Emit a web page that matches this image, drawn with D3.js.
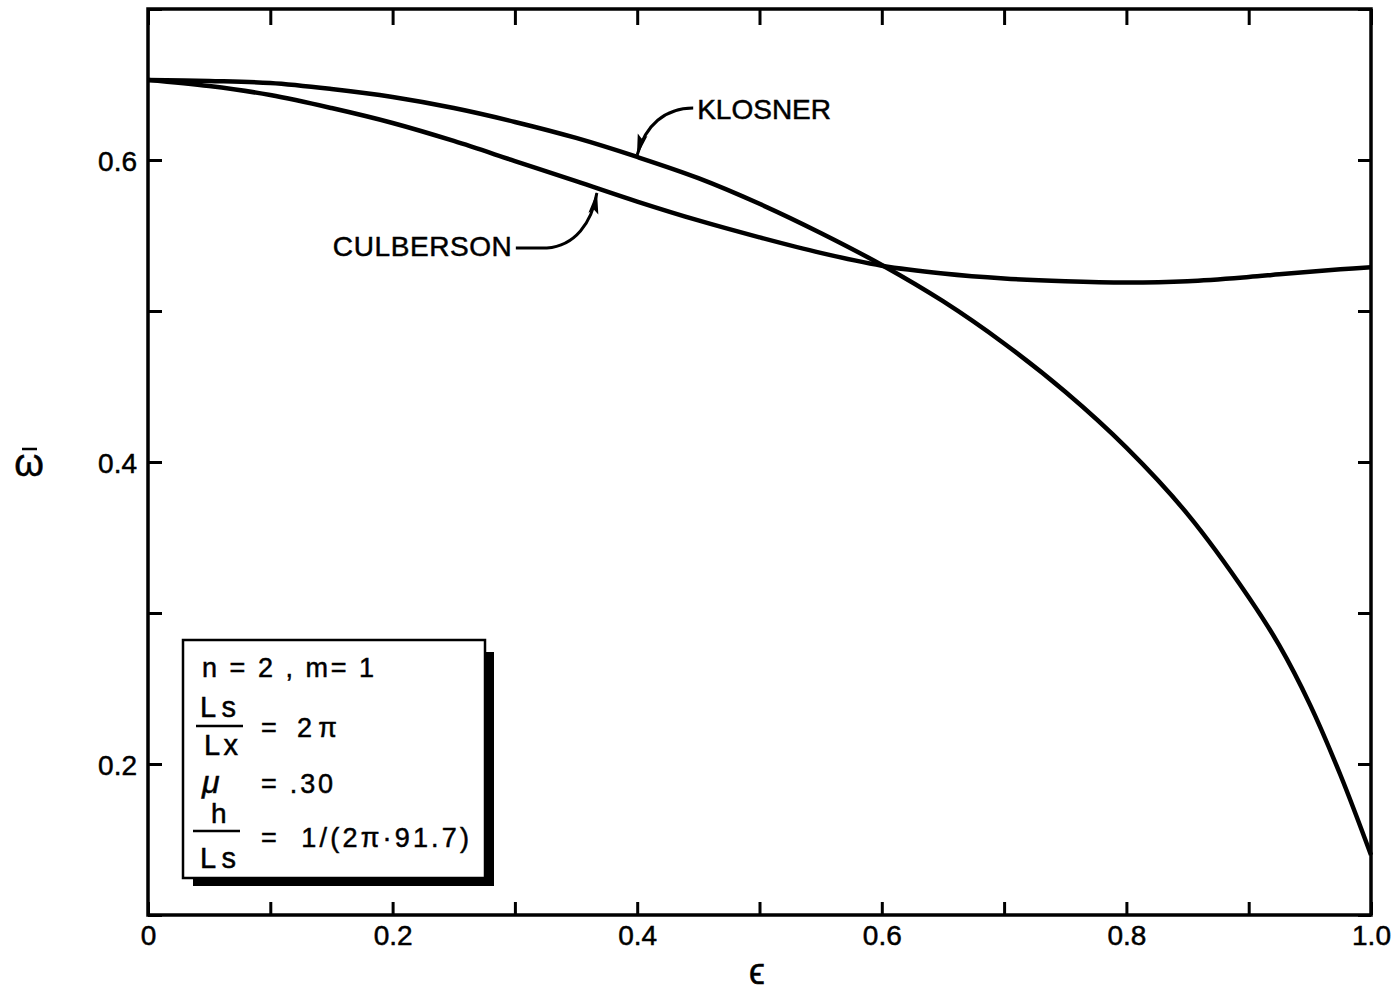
<!DOCTYPE html>
<html>
<head>
<meta charset="utf-8">
<script src="https://cdn.jsdelivr.net/npm/d3@7"></script>
<style>
  body { margin: 0; background: #fff; }
  svg { display: block; }
  svg text { font-family: "Liberation Sans", Arial, sans-serif; fill: #000; stroke: #000; stroke-width: 0.5px; }
</style>
</head>
<body>
<div id="chart"></div>
<script>
// epsilon values (x) and the two frequency curves (y)
const epsilon = [0, 0.05, 0.1, 0.15, 0.2, 0.25, 0.3, 0.35, 0.4, 0.45, 0.5, 0.55, 0.6,
  0.65, 0.7, 0.75, 0.8, 0.85, 0.9, 0.925, 0.95, 0.975, 1.0];
const klosner = [0.653, 0.6523, 0.651, 0.647, 0.6417, 0.6344, 0.6252, 0.6146, 0.602, 0.588,
  0.571, 0.5517, 0.5305, 0.5065, 0.4785, 0.4465, 0.4095, 0.3655, 0.3105, 0.2785,
  0.2395, 0.1927, 0.1397];
const culberson = [0.653, 0.649, 0.643, 0.6344, 0.6245, 0.6126, 0.5993, 0.586, 0.5725, 0.560,
  0.5488, 0.5385, 0.530, 0.5248, 0.5215, 0.5197, 0.5189, 0.5197, 0.5225, 0.5243,
  0.526, 0.5276, 0.529];

const xTicks = [0, 0.1, 0.2, 0.3, 0.4, 0.5, 0.6, 0.7, 0.8, 0.9, 1.0];
const xTickLabels = ['0', '', '0.2', '', '0.4', '', '0.6', '', '0.8', '', '1.0'];
const yTicks = [0.1, 0.2, 0.3, 0.4, 0.5, 0.6, 0.7];
const yTickLabels = ['', '0.2', '', '0.4', '', '0.6', ''];

const width = 1400, height = 999;
const margin = { top: 9, right: 29, bottom: 84, left: 148 };
const innerWidth = width - margin.left - margin.right;
const innerHeight = height - margin.top - margin.bottom;

const svg = d3.select('#chart').append('svg')
  .attr('width', width)
  .attr('height', height);

const g = svg.append('g')
  .attr('transform', `translate(${margin.left},${margin.top})`);

const x = d3.scaleLinear().domain([0, 1]).range([0, innerWidth]);
const y = d3.scaleLinear().domain([0.1, 0.7]).range([innerHeight, 0]);

// axes with inward ticks on all four sides; empty labels are dropped
const styleAxis = sel => {
  sel.select('.domain').remove();
  sel.selectAll('.tick line').attr('stroke', '#000').attr('stroke-width', 3);
  sel.selectAll('.tick text').style('font-size', '28px').attr('fill', '#000');
  sel.selectAll('.tick text').filter(function () { return this.textContent === ''; }).remove();
};

g.append('g')
  .attr('transform', `translate(0,${innerHeight})`)
  .call(d3.axisBottom(x).tickValues(xTicks).tickSize(-13).tickPadding(10)
    .tickFormat((d, i) => xTickLabels[i]))
  .call(styleAxis);

g.append('g')
  .call(d3.axisTop(x).tickValues(xTicks).tickSize(-16).tickFormat(''))
  .call(styleAxis);

g.append('g')
  .call(d3.axisLeft(y).tickValues(yTicks).tickSize(-14).tickPadding(11)
    .tickFormat((d, i) => yTickLabels[i]))
  .call(styleAxis)
  .selectAll('.tick text').attr('dy', '0.38em');

g.append('g')
  .attr('transform', `translate(${innerWidth},0)`)
  .call(d3.axisRight(y).tickValues(yTicks).tickSize(-13).tickFormat(''))
  .call(styleAxis);

// frame
g.append('rect')
  .attr('width', innerWidth)
  .attr('height', innerHeight)
  .attr('fill', 'none')
  .attr('stroke', '#000')
  .attr('stroke-width', 3.5);

// curves
const line = d3.line()
  .x((d, i) => x(epsilon[i]))
  .y(d => y(d))
  .curve(d3.curveCatmullRom.alpha(0.5));

[klosner, culberson].forEach(s => {
  g.append('path')
    .datum(s)
    .attr('d', line)
    .attr('fill', 'none')
    .attr('stroke', '#000')
    .attr('stroke-width', 4.5);
});

// arrowhead marker
svg.append('defs').append('marker')
  .attr('id', 'arrow')
  .attr('markerUnits', 'userSpaceOnUse')
  .attr('viewBox', '0 -6 22 12')
  .attr('refX', 21)
  .attr('refY', 0)
  .attr('markerWidth', 22)
  .attr('markerHeight', 12)
  .attr('orient', 'auto')
  .append('path')
  .attr('d', 'M0,-5L22,0L0,5L4,0Z')
  .attr('fill', '#000');

// KLOSNER label and leader
const kTip = [x(0.4) + margin.left, y(0.602) + margin.top];
svg.append('path')
  .attr('d', `M${kTip[0] + 56},${kTip[1] - 49} C${kTip[0] + 28},${kTip[1] - 49} ${kTip[0] + 8},${kTip[1] - 32} ${kTip[0]},${kTip[1] - 2}`)
  .attr('fill', 'none')
  .attr('stroke', '#000')
  .attr('stroke-width', 3)
  .attr('marker-end', 'url(#arrow)');
svg.append('text')
  .attr('x', kTip[0] + 60)
  .attr('y', kTip[1] - 38)
  .style('font-size', '28px')
  .text('KLOSNER');

// CULBERSON label and leader
const cTip = [x(0.367) + margin.left, y(0.5795) + margin.top];
svg.append('path')
  .attr('d', `M${cTip[0] - 81},${cTip[1] + 57} L${cTip[0] - 50},${cTip[1] + 57} C${cTip[0] - 22},${cTip[1] + 55} ${cTip[0] - 5},${cTip[1] + 32} ${cTip[0]},${cTip[1] + 2}`)
  .attr('fill', 'none')
  .attr('stroke', '#000')
  .attr('stroke-width', 3)
  .attr('marker-end', 'url(#arrow)');
svg.append('text')
  .attr('x', cTip[0] - 264)
  .attr('y', cTip[1] + 65)
  .attr('textLength', 179)
  .attr('lengthAdjust', 'spacing')
  .style('font-size', '28px')
  .text('CULBERSON');

// axis titles
svg.append('text')
  .attr('x', 757)
  .attr('y', 984)
  .attr('text-anchor', 'middle')
  .style('font-size', '36px')
  .text('\u03F5');
svg.append('text')
  .attr('x', 29)
  .attr('y', 476)
  .attr('text-anchor', 'middle')
  .style('font-size', '38px')
  .text('\u03C9');
svg.append('line')
  .attr('x1', 22).attr('x2', 37)
  .attr('y1', 449).attr('y2', 449)
  .attr('stroke', '#000').attr('stroke-width', 2.5);

// parameter box with drop shadow
const box = svg.append('g');
box.append('rect')
  .attr('x', 193).attr('y', 652).attr('width', 301).attr('height', 234)
  .attr('fill', '#000');
box.append('rect')
  .attr('x', 183).attr('y', 640).attr('width', 302).attr('height', 238)
  .attr('fill', '#fff').attr('stroke', '#000').attr('stroke-width', 2.5);

const addText = (tx, ty, str, size, len) => {
  const t = box.append('text')
    .attr('x', tx).attr('y', ty)
    .attr('xml:space', 'preserve')
    .style('font-size', size + 'px')
    .text(str);
  if (len) t.attr('textLength', len).attr('lengthAdjust', 'spacing');
  return t;
};
const addBar = (x1, x2, by) => box.append('line')
  .attr('x1', x1).attr('x2', x2).attr('y1', by).attr('y2', by)
  .attr('stroke', '#000').attr('stroke-width', 2.5);

addText(202, 677, 'n = 2 , m= 1', 27, 172);
addText(200, 717, 'Ls', 29, 36);
addBar(196, 243, 726);
addText(204, 755, 'Lx', 29, 34);
addText(261, 737, '= 2\u03C0', 27, 76);
addText(202, 793, '\u03BC', 32).style('font-style', 'italic');
addText(261, 793, '= .30', 27, 72);
addText(211, 823, 'h', 28);
addBar(193, 240, 831);
addText(200, 868, 'Ls', 29, 36);
addText(261, 847, '=  1/(2\u03C0\u00B791.7)', 27, 208);
</script>
</body>
</html>
